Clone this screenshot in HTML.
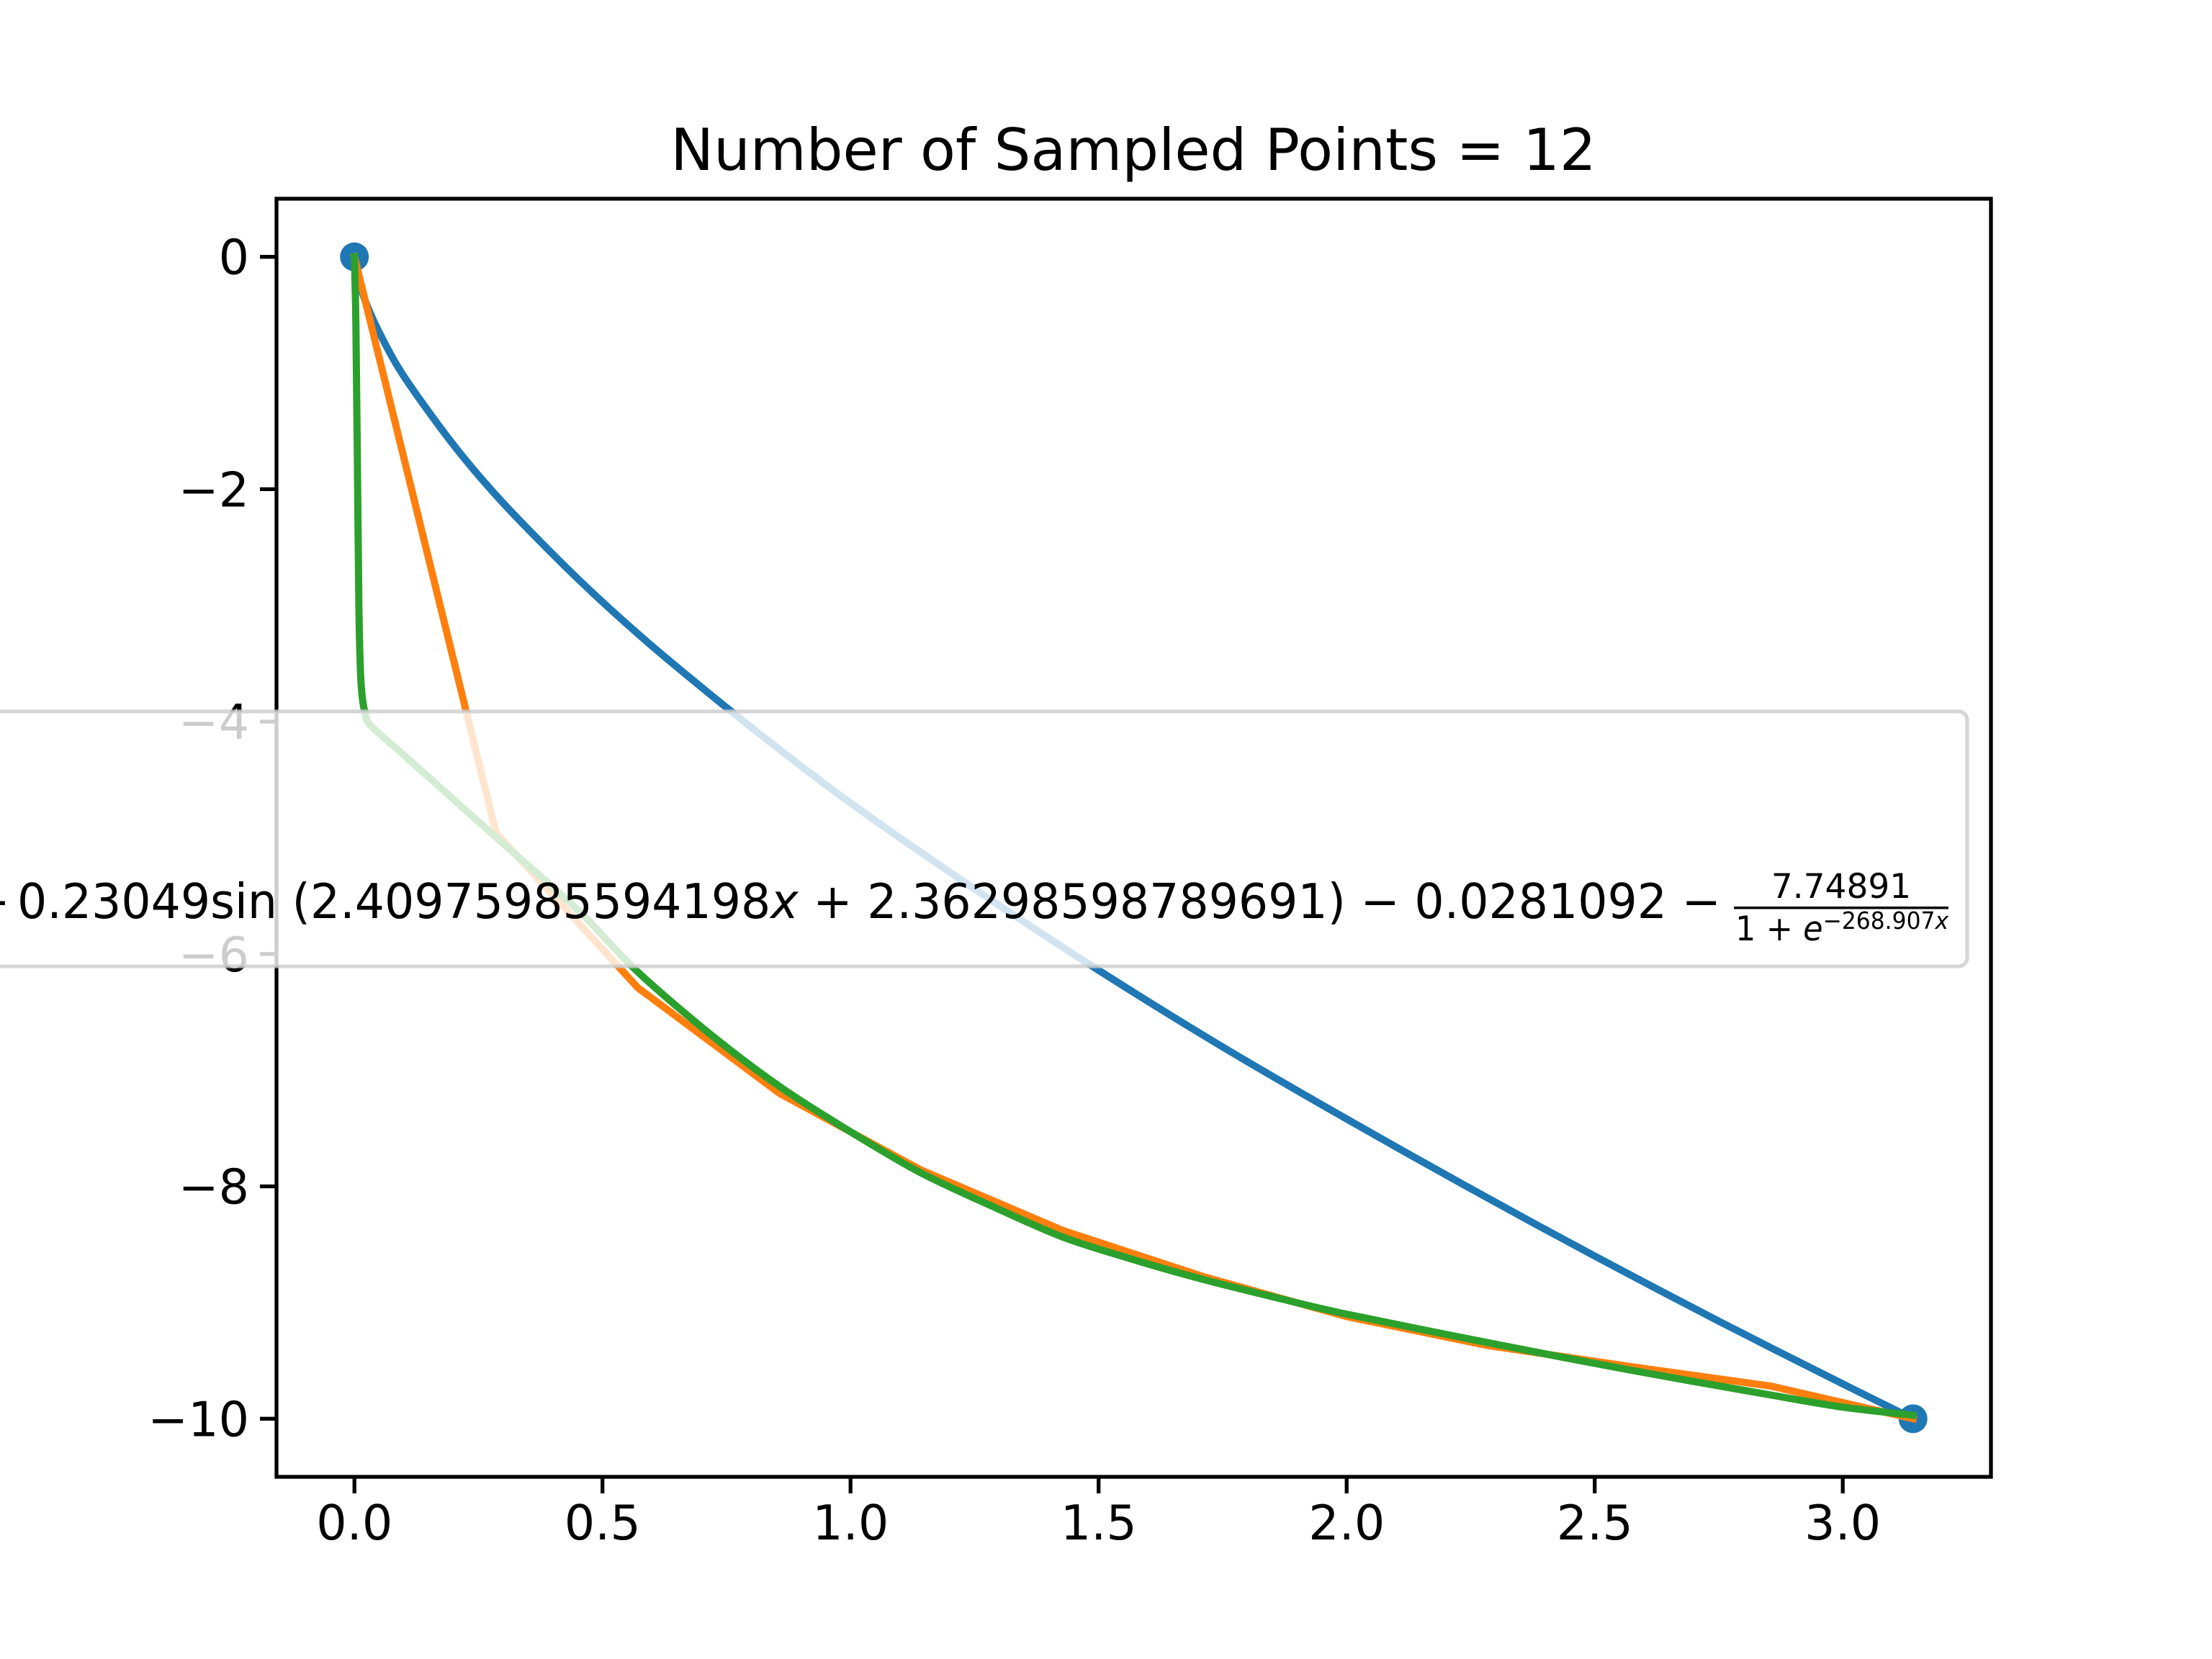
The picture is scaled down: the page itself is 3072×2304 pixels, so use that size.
<!DOCTYPE html>
<html><head><meta charset="utf-8"><style>
html,body{margin:0;padding:0;background:#fff;}
svg{display:block;}
text{font-family:"DejaVu Sans","Liberation Sans",sans-serif;fill:#000;}
</style></head><body>
<svg id="chart" width="3072" height="2304" viewBox="0 0 3072 2304" xmlns="http://www.w3.org/2000/svg">
<rect x="0" y="0" width="3072" height="2304" fill="#fff"/>
<text x="1574" y="236" font-size="80" text-anchor="middle">Number of Sampled Points = 12</text>
<g id="plot"></g>
</svg>
<script>
const xTicks=[0,0.5,1.0,1.5,2.0,2.5,3.0];
const xTickLabels=["0.0","0.5","1.0","1.5","2.0","2.5","3.0"];
const yTicks=[0,-2,-4,-6,-8,-10];
const yTickLabels=["0","\u22122","\u22124","\u22126","\u22128","\u221210"];
const sampleX=[0,3.14159];
const sampleY=[0,-10];
const blueX=[0,0.005,0.02,0.05,0.1,0.2,0.3,0.45,0.6,0.8,1.0,1.25,1.5,1.75,2.0,2.25,2.5,2.75,3.0,3.14159];
const blueY=[0,-0.14,-0.36,-0.65,-1.03,-1.62,-2.12,-2.77,-3.35,-4.05,-4.7,-5.44,-6.14,-6.8,-7.42,-8.02,-8.6,-9.16,-9.7,-10];
const orangeX=[0,0.2856,0.5712,0.8568,1.1424,1.428,1.7136,1.9992,2.2848,2.5704,2.856,3.14159];
const orangeY=[0,-4.96,-6.29,-7.2,-7.86,-8.38,-8.78,-9.12,-9.37,-9.55,-9.72,-10];
const greenX=[0,0.003,0.006,0.009,0.012,0.016,0.022,0.032,0.1,0.2,0.3,0.45,0.57,0.72,0.86,1.0,1.14,1.29,1.43,1.57,1.71,1.86,2.0,2.29,2.57,2.86,3.0,3.14159];
const greenY=[0,-0.6,-1.8,-3.0,-3.55,-3.8,-3.93,-4.03,-4.29,-4.67,-5.05,-5.62,-6.15,-6.7,-7.15,-7.53,-7.88,-8.18,-8.44,-8.63,-8.8,-8.96,-9.1,-9.35,-9.58,-9.8,-9.9,-9.97];

const L=384,R=2765,T=276,B=2051;
const xmin=-0.15708,xmax=3.29867,ymin=-10.5,ymax=0.5;
function sx(v){return L+(v-xmin)/(xmax-xmin)*(R-L);}
function sy(v){return B-(v-ymin)/(ymax-ymin)*(B-T);}
const NS="http://www.w3.org/2000/svg";
const g=document.getElementById('plot');
function mk(tag,attrs,parent){const e=document.createElementNS(NS,tag);for(const k in attrs)e.setAttribute(k,attrs[k]);(parent||g).appendChild(e);return e;}

sampleX.forEach((v,i)=>{
  const c=mk('circle',{cx:sx(v),cy:sy(sampleY[i]),r:20,fill:'#1f77b4'});
  
  
});
function line(xs,ys,color,name,smooth){
  const P=xs.map((v,i)=>[sx(v),sy(ys[i])]);
  let d='M'+P[0][0].toFixed(1)+','+P[0][1].toFixed(1);
  for(let i=0;i<P.length-1;i++){
    if(!smooth){d+='L'+P[i+1][0].toFixed(1)+','+P[i+1][1].toFixed(1);continue;}
    const p0=P[Math.max(0,i-1)],p1=P[i],p2=P[i+1],p3=P[Math.min(P.length-1,i+2)];
    const t=0.15;
    const c1=[p1[0]+(p2[0]-p0[0])*t,p1[1]+(p2[1]-p0[1])*t];
    const c2=[p2[0]-(p3[0]-p1[0])*t,p2[1]-(p3[1]-p1[1])*t];
    d+='C'+c1[0].toFixed(1)+','+c1[1].toFixed(1)+' '+c2[0].toFixed(1)+','+c2[1].toFixed(1)+' '+p2[0].toFixed(1)+','+p2[1].toFixed(1);
  }
  const p=mk('path',{d:d,fill:'none',stroke:color,'stroke-width':10,'stroke-linejoin':'round','stroke-linecap':'square'});
  
  
}
line(blueX,blueY,'#1f77b4','true-function-line',true);
line(orangeX,orangeY,'#ff7f0e','linear-interpolation-line',false);
line(greenX,greenY,'#2ca02c','fitted-function-line',true);

const sp=mk('rect',{x:L,y:T,width:R-L,height:B-T,fill:'none',stroke:'#000','stroke-width':5.3});



xTicks.forEach((v,i)=>{
  const x=sx(v);
  const t=mk('line',{x1:x,x2:x,y1:B,y2:B+23,stroke:'#000','stroke-width':5.3});
  
  
  const lb=mk('text',{x:x,y:B+38+49,'font-size':66.7,'text-anchor':'middle'});
  lb.textContent=xTickLabels[i];
  
  
});
yTicks.forEach((v,i)=>{
  const y=sy(v);
  const t=mk('line',{x1:L-23,x2:L,y1:y,y2:y,stroke:'#000','stroke-width':5.3});
  
  
  const lb=mk('text',{x:L-38,y:y+24,'font-size':66.7,'text-anchor':'end'});
  lb.textContent=yTickLabels[i];
  
  
});

const lg=mk('g',{});


const box=mk('rect',{x:-40,y:988,width:2772,height:354,rx:12,fill:'#fff','fill-opacity':0.8,stroke:'#cccccc','stroke-opacity':0.8,'stroke-width':5.3},lg);


const minus=mk('text',{x:14,y:1275,'font-size':66.7,'text-anchor':'end'},lg);
minus.textContent='\u2212';


const main=mk('text',{x:24,y:1275,'font-size':66.7,textLength:2366,lengthAdjust:'spacingAndGlyphs'},lg);
main.innerHTML='0.23049sin (2.40975985594198<tspan font-style="italic">x</tspan> + 2.36298598789691) \u2212 0.0281092 \u2212';


const num=mk('text',{x:2557,y:1247,'font-size':47,'text-anchor':'middle'},lg);
num.textContent='7.74891';


const bar=mk('rect',{x:2408,y:1259,width:298,height:3.5,fill:'#000'},lg);


const den=mk('text',{x:2410,y:1306,'font-size':47,textLength:296,lengthAdjust:'spacingAndGlyphs'},lg);
den.innerHTML='1 + <tspan font-style="italic">e</tspan><tspan font-size="33" dy="-16">\u2212268.907<tspan font-style="italic">x</tspan></tspan>';


</script>
</body></html>
